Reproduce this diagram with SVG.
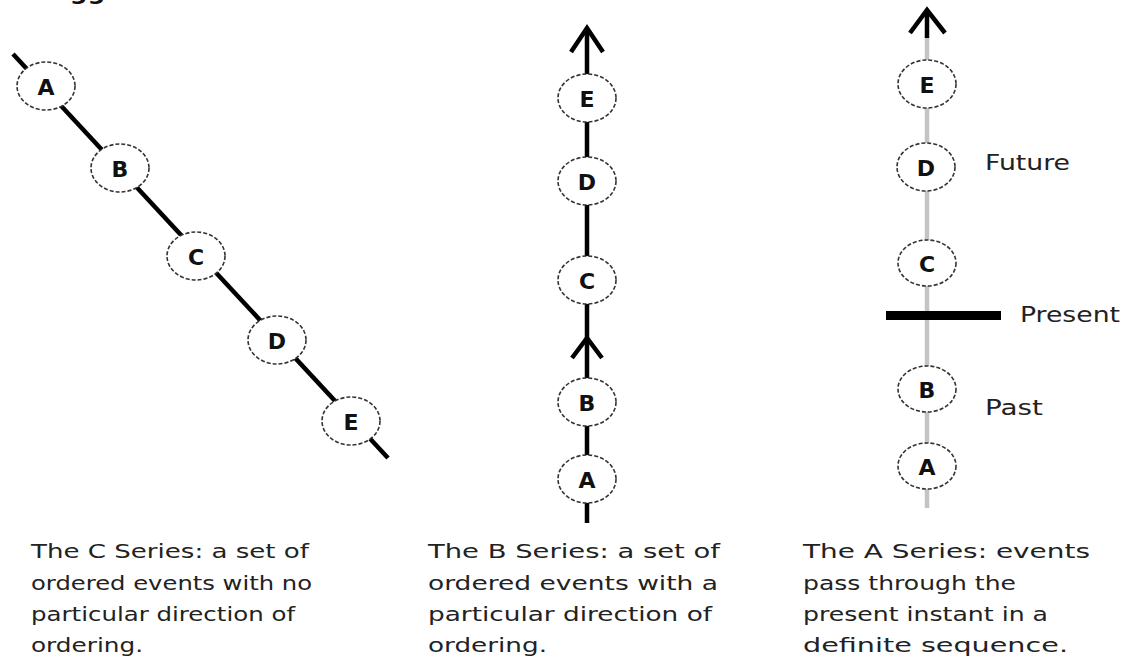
<svg xmlns="http://www.w3.org/2000/svg" width="1126" height="659" viewBox="0 0 1126 659">
<style>
.node ellipse{fill:#fff;stroke:#333;stroke-width:1.6;stroke-dasharray:4 2}
.node text{font-family:"DejaVu Sans",Verdana,sans-serif;font-weight:bold;font-size:22px;fill:#111;text-anchor:middle;dominant-baseline:central}
.cap{font-family:"DejaVu Sans",Verdana,sans-serif;font-size:19px;fill:#222}
.lbl{font-family:"DejaVu Sans",Verdana,sans-serif;font-size:21px;fill:#222}
.chev{fill:none;stroke:#000;stroke-width:4.5;stroke-linecap:butt;stroke-linejoin:miter}
</style>
<rect width="1126" height="659" fill="#fff"/>
<text x="0" y="0" font-family="DejaVu Sans,Verdana,sans-serif" font-weight="bold" font-size="22" fill="#111" textLength="365" lengthAdjust="spacingAndGlyphs">McTaggart's Ideas of Time</text>

<g id="connectors">
  <line x1="13" y1="54" x2="388" y2="458" stroke="#000" stroke-width="4.5"/>
  <line x1="587" y1="30" x2="587" y2="523" stroke="#000" stroke-width="4.5"/>
  <polyline class="chev" points="571,52 587,28 603,52"/>
  <polyline class="chev" points="572,358 587,338 602,358"/>
  <line x1="927" y1="36" x2="927" y2="508" stroke="#c4c4c4" stroke-width="4.5"/>
  <line x1="927" y1="12" x2="927" y2="38" stroke="#000" stroke-width="4.5"/>
  <polyline class="chev" points="910,33 927,10 945,33"/>
  <rect x="886" y="311" width="115" height="9" fill="#000"/>
</g>

<g id="c-A" class="node"><ellipse cx="46" cy="86" rx="29" ry="24"/><text x="46" y="87">A</text></g>
<g id="c-B" class="node"><ellipse cx="120" cy="168" rx="29" ry="24"/><text x="120" y="169">B</text></g>
<g id="c-C" class="node"><ellipse cx="196" cy="256" rx="29" ry="24"/><text x="196" y="257">C</text></g>
<g id="c-D" class="node"><ellipse cx="277" cy="340" rx="29" ry="24"/><text x="277" y="341">D</text></g>
<g id="c-E" class="node"><ellipse cx="351" cy="421" rx="29" ry="24"/><text x="351" y="422">E</text></g>

<g id="b-E" class="node"><ellipse cx="587" cy="98" rx="29" ry="24"/><text x="587" y="99">E</text></g>
<g id="b-D" class="node"><ellipse cx="587" cy="181" rx="29" ry="24"/><text x="587" y="182">D</text></g>
<g id="b-C" class="node"><ellipse cx="587" cy="280" rx="29" ry="24"/><text x="587" y="281">C</text></g>
<g id="b-B" class="node"><ellipse cx="587" cy="402" rx="29" ry="24"/><text x="587" y="403">B</text></g>
<g id="b-A" class="node"><ellipse cx="587" cy="479" rx="29" ry="24"/><text x="587" y="480">A</text></g>

<g id="a-E" class="node"><ellipse cx="927" cy="84" rx="29" ry="24"/><text x="927" y="85">E</text></g>
<g id="a-D" class="node"><ellipse cx="926" cy="167" rx="29" ry="24"/><text x="926" y="168">D</text></g>
<g id="a-C" class="node"><ellipse cx="927" cy="263" rx="29" ry="23"/><text x="927" y="264">C</text></g>
<g id="a-B" class="node"><ellipse cx="927" cy="389" rx="29" ry="23"/><text x="927" y="390">B</text></g>
<g id="a-A" class="node"><ellipse cx="927" cy="466" rx="29" ry="23"/><text x="927" y="467">A</text></g>

<g id="labels">
  <text class="lbl" x="985" y="170" textLength="85" lengthAdjust="spacingAndGlyphs">Future</text>
  <text class="lbl" x="1020" y="322" textLength="100" lengthAdjust="spacingAndGlyphs">Present</text>
  <text class="lbl" x="985" y="415" textLength="58" lengthAdjust="spacingAndGlyphs">Past</text>
</g>

<g id="captions">
  <text class="cap" x="31" y="558" textLength="278" lengthAdjust="spacingAndGlyphs">The C Series: a set of</text>
  <text class="cap" x="31" y="590" textLength="281" lengthAdjust="spacingAndGlyphs">ordered events with no</text>
  <text class="cap" x="31" y="621" textLength="264" lengthAdjust="spacingAndGlyphs">particular direction of</text>
  <text class="cap" x="31" y="652" textLength="112" lengthAdjust="spacingAndGlyphs">ordering.</text>

  <text class="cap" x="428" y="558" textLength="292" lengthAdjust="spacingAndGlyphs">The B Series: a set of</text>
  <text class="cap" x="428" y="590" textLength="290" lengthAdjust="spacingAndGlyphs">ordered events with a</text>
  <text class="cap" x="428" y="621" textLength="284" lengthAdjust="spacingAndGlyphs">particular direction of</text>
  <text class="cap" x="428" y="652" textLength="119" lengthAdjust="spacingAndGlyphs">ordering.</text>

  <text class="cap" x="803" y="558" textLength="287" lengthAdjust="spacingAndGlyphs">The A Series: events</text>
  <text class="cap" x="803" y="590" textLength="213" lengthAdjust="spacingAndGlyphs">pass through the</text>
  <text class="cap" x="803" y="621" textLength="245" lengthAdjust="spacingAndGlyphs">present instant in a</text>
  <text class="cap" x="803" y="652" textLength="265" lengthAdjust="spacingAndGlyphs">definite sequence.</text>
</g>
</svg>
